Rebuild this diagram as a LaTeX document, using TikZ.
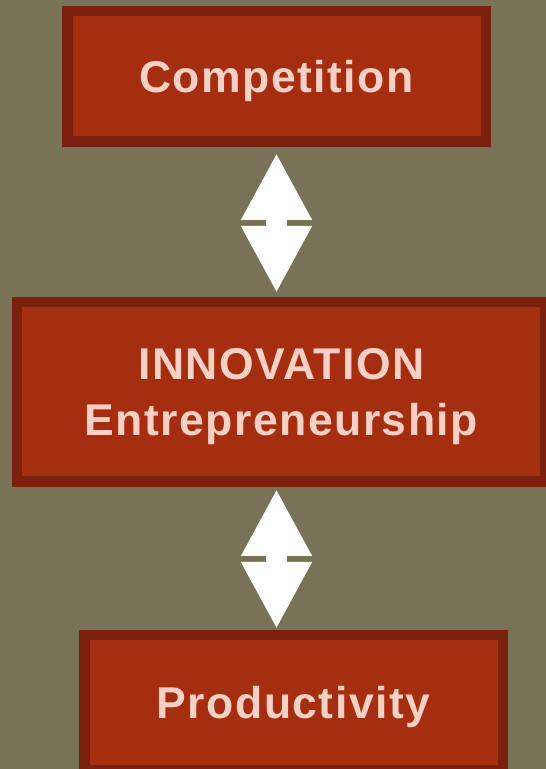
\documentclass[tikz,border=0pt]{standalone}
\usepackage{fontspec}
\setmainfont{Liberation Sans}[LetterSpace=3.3]
\usetikzlibrary{arrows.meta}

\definecolor{olivebg}{RGB}{120,114,86}
\definecolor{boxfill}{RGB}{166,46,16}
\definecolor{boxline}{RGB}{122,32,12}
\definecolor{boxtext}{RGB}{250,208,196}

\begin{document}
\begin{tikzpicture}[x=1pt, y=1pt,
    stage/.style={draw=boxline, fill=boxfill, line width=10.5pt, inner sep=0pt,
      text=boxtext, font=\fontsize{44.5}{56}\selectfont\bfseries, align=center,
      text height=32pt, text depth=0pt},
    link/.style={white, line width=21pt,
      {Triangle[length=67pt,width=66pt]}-{Triangle[length=67pt,width=66pt]}}]
    \clip (0,0) rectangle (546,769);
    \fill[olivebg] (0,0) rectangle (546,769); % background
    \node[stage, minimum width=418.5pt, minimum height=130.5pt] (comp) at (276.5,692.5) {Competition};
    \node[stage, minimum width=528.5pt, minimum height=179.5pt, text height=88pt] (innov) at (281.3,377) {INNOVATION\\Entrepreneurship};
    \node[stage, minimum width=418.5pt, minimum height=135.5pt] (prod) at (293.5,66) {Productivity};
    \draw[link, shorten <=6pt, shorten >=4pt] (comp.south) -- (comp.south |- innov.north); % upper arrow
    \draw[link, shorten <=2pt, shorten >=1pt] (comp.south |- innov.south) -- (comp.south |- prod.north); % lower arrow
\end{tikzpicture}
\end{document}
